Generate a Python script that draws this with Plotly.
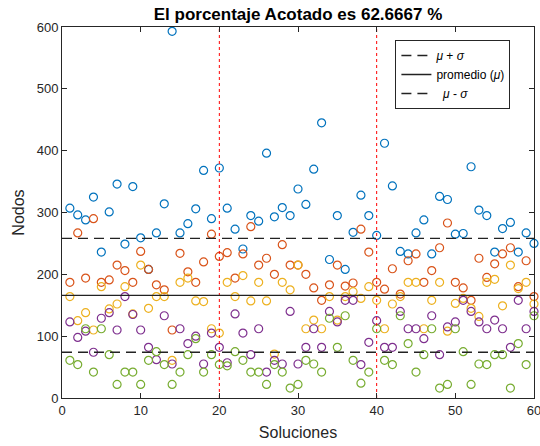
import plotly.graph_objects as go

# ------------DATA------------------------------------------
soluciones = list(range(1, 61))

nodos_azul = [307, 296, 288, 325, 236, 301, 346, 249, 342, 259,
              208, 267, 314, 593, 267, 282, 306, 368, 290, 372,
              307, 273, 241, 295, 286, 396, 293, 308, 295, 338,
              313, 370, 445, 224, 295, 208, 268, 328, 295, 263,
              412, 343, 237, 233, 267, 288, 233, 326, 321, 265,
              266, 374, 304, 295, 236, 274, 284, 236, 267, 250]
nodos_naranja = [187, 267, 194, 290, 187, 191, 215, 206, 187, 237,
                 208, 183, 175, 110, 234, 204, 187, 220, 265, 229,
                 235, 194, 233, 277, 215, 226, 200, 248, 215, 215,
                 200, 178, 158, 183, 215, 181, 186, 273, 236, 187,
                 176, 209, 168, 222, 233, 187, 206, 243, 283, 187,
                 178, 158, 226, 195, 217, 233, 243, 180, 222, 164]
nodos_amarillo = [164, 125, 138, 110, 180, 144, 152, 180, 136, 215,
                  145, 164, 164, 61, 187, 194, 157, 156, 112, 105,
                  187, 164, 198, 157, 187, 157, 71, 187, 175, 215,
                  112, 126, 112, 164, 126, 164, 172, 161, 180, 158,
                  112, 152, 164, 187, 187, 112, 158, 187, 108, 153,
                  161, 145, 132, 187, 192, 149, 215, 177, 187, 152]
nodos_morado = [123, 98, 108, 74, 129, 138, 110, 164, 135, 110,
                82, 62, 133, 55, 112, 88, 100, 55, 105, 82,
                57, 136, 105, 70, 112, 42, 61, 55, 140, 55,
                82, 112, 82, 140, 123, 158, 158, 54, 90, 125,
                82, 82, 140, 112, 112, 96, 133, 70, 115, 123,
                158, 140, 123, 112, 126, 112, 82, 158, 112, 140]
nodos_verde = [61, 54, 112, 42, 112, 70, 22, 42, 42, 22,
               61, 75, 54, 22, 42, 70, 96, 42, 70, 54,
               52, 75, 61, 42, 42, 22, 54, 42, 16, 22,
               61, 55, 42, 129, 82, 133, 61, 24, 42, 112,
               61, 54, 133, 88, 42, 70, 112, 16, 22, 112,
               75, 22, 55, 54, 70, 70, 16, 88, 54, 133]

promedio = 166
sigma = 92
cortes = [20, 40]

# ------------FORMATING OPTIONS------------------------------------------
colores = ['#0072BD', '#D95319', '#EDB120', '#7E2F8E', '#77AC30']
ejes = '#262626'
fuente = 'Liberation Sans, Arial, sans-serif'

fig = go.Figure()

# --------------------PUNTOS--------------------------------------------------------
series = [nodos_azul, nodos_naranja, nodos_amarillo, nodos_morado, nodos_verde]
for serie, color in zip(series, colores):
    fig.add_trace(go.Scatter(x=soluciones, y=serie, mode='markers', showlegend=False,
                             cliponaxis=False,
                             marker=dict(symbol='circle-open', size=8, color=color,
                                         line=dict(width=1.2))))

# --------------------LINEAS DE CORTE (rojas)----------------------------------------
for c in cortes:
    fig.add_trace(go.Scatter(x=[c, c], y=[0, 600], mode='lines', showlegend=False,
                             line=dict(color='red', width=1, dash='dot')))

# --------------------PROMEDIO Y DESVIACION------------------------------------------
fig.add_trace(go.Scatter(x=[0, 60], y=[promedio + sigma] * 2, mode='lines',
                         name='<i>μ</i> + <i>σ</i>',
                         line=dict(color='#222222', width=1.3, dash='10px,6px')))
fig.add_trace(go.Scatter(x=[0, 60], y=[promedio] * 2, mode='lines',
                         name='promedio (<i>μ</i>)',
                         line=dict(color='#222222', width=1.3)))
fig.add_trace(go.Scatter(x=[0, 60], y=[promedio - sigma] * 2, mode='lines',
                         name='  <i>μ</i> - <i>σ</i>',
                         line=dict(color='#222222', width=1.3, dash='10px,6px')))

fig.update_layout(width=540, height=446,
                  margin=dict(l=62, r=6, t=27, b=48),
                  plot_bgcolor='white', paper_bgcolor='white',
                  font=dict(family=fuente, size=13, color=ejes),
                  title=dict(text='<b>El porcentaje Acotado es 62.6667 %</b>',
                             x=0.5, xref='paper', xanchor='center',
                             y=1 - 14 / 446, yanchor='middle',
                             font=dict(size=17, color='black')),
                  legend=dict(x=0.95, y=0.965, xanchor='right', yanchor='top',
                              bgcolor='white', bordercolor=ejes, borderwidth=1,
                              font=dict(size=12, color='black'),
                              tracegroupgap=0, itemwidth=30))
fig.update_xaxes(range=[0, 60], tickvals=[0, 10, 20, 30, 40, 50, 60],
                 showgrid=False, zeroline=False, showline=True, linewidth=1,
                 linecolor=ejes, mirror='ticks', ticks='inside', ticklen=5,
                 tickcolor=ejes, automargin=False, ticklabeloverflow='allow',
                 tickfont=dict(size=13),
                 title=dict(text='Soluciones', font=dict(size=16), standoff=10))
fig.update_yaxes(range=[0, 600], tickvals=[0, 100, 200, 300, 400, 500, 600],
                 showgrid=False, zeroline=False, showline=True, linewidth=1,
                 linecolor=ejes, mirror='ticks', ticks='inside', ticklen=5,
                 tickcolor=ejes, automargin=False, ticklabeloverflow='allow',
                 tickfont=dict(size=13),
                 title=dict(text='Nodos', font=dict(size=16), standoff=8))

# quitar el margen del body para que el grafico quede en (0, 0)
fig.write_html("out.html", config={'displayModeBar': False},
               post_script="document.body.style.margin='0';")
